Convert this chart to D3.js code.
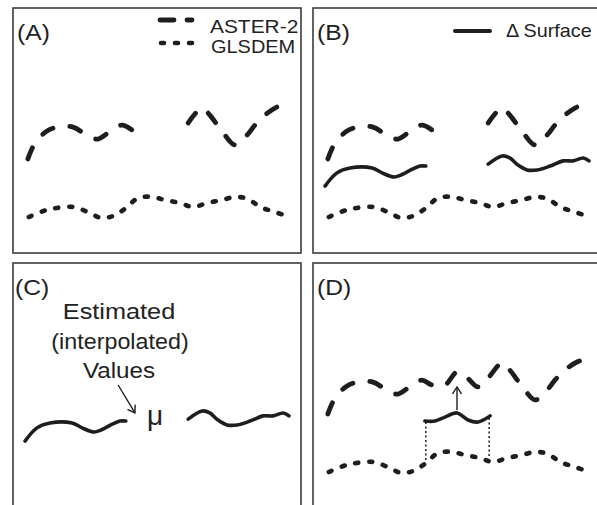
<!DOCTYPE html>
<html>
<head>
<meta charset="utf-8">
<script src="https://cdn.jsdelivr.net/npm/d3@7"></script>
<style>
  body { margin: 0; background: #fff; }
  svg { display: block; }
  text { font-family: "Liberation Sans", Arial, sans-serif; fill: #222; }
</style>
</head>
<body>
<script>
let w = 597;
let h = 505;
let panelW = 288;
let panelH = 245;

// distance (km) / elevation (relative units)
let asterDist1 = [3.1, 4.6, 7.1, 9.4, 12.5, 15.6, 17.7, 20.6, 22.7, 24.8];
let asterElev1 = [38.4, 44.9, 49.8, 51.4, 51.4, 47.8, 46.5, 50.2, 52.2, 50.2];
let asterDist2 = [36.5, 39.4, 41.0, 43.8, 46.3, 48.8, 50.4, 52.5, 55.0, 57.7];
let asterElev2 = [53.1, 59.2, 56.3, 49.0, 44.1, 48.2, 52.2, 56.3, 59.6, 61.2];
let fillDist = [27.5, 30.0, 32.1, 34.4];
let fillElev = [50.2, 55.5, 53.1, 49.4];

let glsDist = [3.3, 7.1, 12.5, 15.6, 18.5, 21.3, 23.8, 26.0, 29.0, 31.7, 34.8, 37.5, 40.4, 43.5, 46.3, 49.0, 51.5, 54.6, 57.7];
let glsElev = [14.7, 17.6, 18.8, 16.7, 14.3, 15.5, 18.8, 22.4, 22.9, 21.6, 20.4, 18.8, 20.4, 21.6, 22.9, 22.0, 18.8, 16.7, 14.7];

let surfDist1 = [2.5, 5.0, 7.7, 12.3, 14.4, 16.9, 18.3, 20.8, 22.3, 23.5];
let surfElev1 = [27.3, 32.7, 34.7, 34.7, 32.7, 31.0, 31.8, 34.3, 35.5, 35.5];
let surfDist2 = [36.5, 39.4, 41.0, 42.7, 44.6, 46.7, 49.4, 52.1, 54.2, 56.3, 57.5];
let surfElev2 = [36.3, 39.6, 38.8, 35.9, 33.9, 33.9, 35.5, 37.6, 37.6, 38.8, 37.6];

let patchDist = [23.3, 25.4, 27.5, 30.0, 32.3, 34.4, 36.9];
let patchElev = [35.5, 35.5, 37.1, 38.8, 35.9, 35.1, 37.6];

let gapEdgeDist = [23.5, 36.7];
let gapEdgeTop = [35.1, 36.7];
let gapEdgeBottom = [19.6, 20.6];

let panels = [
  {label: "(A)", x: 13, y: 8, lx: 4},
  {label: "(B)", x: 313, y: 8, lx: 4},
  {label: "(C)", x: 13, y: 263, lx: 2},
  {label: "(D)", x: 313, y: 263, lx: 4}
];

let x = d3.scaleLinear().domain([0, 60]).range([0, panelW]);
let y = d3.scaleLinear().domain([0, 100]).range([panelH, 0]);

let line = d3.line()
  .x(d => x(d[0]))
  .y(d => y(d[1]))
  .curve(d3.curveCatmullRom.alpha(0.5));

let ink = "#1e1e1e";

let aster1 = d3.zip(asterDist1, asterElev1);
let aster2 = d3.zip(asterDist2, asterElev2);
let asterFull = aster1.concat(d3.zip(fillDist, fillElev), aster2);
let gls = d3.zip(glsDist, glsElev);
let surf1 = d3.zip(surfDist1, surfElev1);
let surf2 = d3.zip(surfDist2, surfElev2);
let patch = d3.zip(patchDist, patchElev);

let svg = d3.select("body")
  .append("svg")
  .attr("width", w)
  .attr("height", h);

svg.append("defs").append("marker")
  .attr("id", "arr")
  .attr("viewBox", "-9 -6 11 12")
  .attr("markerUnits", "userSpaceOnUse")
  .attr("markerWidth", 11)
  .attr("markerHeight", 12)
  .attr("refX", 0)
  .attr("refY", 0)
  .attr("orient", "auto")
  .append("path")
    .attr("d", "M-7,-4.5L0,0L-7,4.5")
    .attr("fill", "none")
    .attr("stroke", ink)
    .attr("stroke-width", 1.4);

function addText(g, tx, ty, str, size, anchor, sx) {
  return g.append("text")
    .attr("transform", "translate(" + tx + "," + ty + ") scale(" + sx + ",1)")
    .attr("text-anchor", anchor)
    .attr("font-size", size)
    .text(str);
}

function asterPath(g, pts) {
  g.append("path")
    .attr("d", line(pts))
    .attr("fill", "none")
    .attr("stroke", ink)
    .attr("stroke-width", 4.8)
    .attr("stroke-linecap", "round")
    .attr("stroke-dasharray", "12,17");
}

function glsPath(g, pts) {
  g.append("path")
    .attr("d", line(pts))
    .attr("fill", "none")
    .attr("stroke", ink)
    .attr("stroke-width", 4.6)
    .attr("stroke-linecap", "round")
    .attr("stroke-dasharray", "3,11");
}

function surfPath(g, pts) {
  g.append("path")
    .attr("d", line(pts))
    .attr("fill", "none")
    .attr("stroke", ink)
    .attr("stroke-width", 3.6)
    .attr("stroke-linecap", "round")
    .attr("stroke-linejoin", "round");
}

let groups = panels.map(p => {
  let g = svg.append("g").attr("transform", "translate(" + p.x + "," + p.y + ")");
  g.append("rect")
    .attr("width", panelW)
    .attr("height", panelH)
    .attr("fill", "none")
    .attr("stroke", "#3c3c3c")
    .attr("stroke-width", 1.6);
  addText(g, p.lx, 32, p.label, 22, "start", 1.12);
  return g;
});

let gA = groups[0], gB = groups[1], gC = groups[2], gD = groups[3];

// (A) two DEMs with a void in ASTER-2
asterPath(gA, aster1);
asterPath(gA, aster2);
glsPath(gA, gls);

gA.append("line")
  .attr("x1", 147).attr("x2", 179).attr("y1", 12).attr("y2", 12)
  .attr("stroke", ink).attr("stroke-width", 4.8).attr("stroke-linecap", "round")
  .attr("stroke-dasharray", "14,13");
gA.append("line")
  .attr("x1", 148).attr("x2", 179).attr("y1", 35).attr("y2", 35)
  .attr("stroke", ink).attr("stroke-width", 4.6).attr("stroke-linecap", "round")
  .attr("stroke-dasharray", "3,11");
addText(gA, 197, 24.5, "ASTER-2", 19, "start", 1.1);
addText(gA, 198, 45, "GLSDEM", 19, "start", 1.05);

// (B) difference surface
asterPath(gB, aster1);
asterPath(gB, aster2);
glsPath(gB, gls);
surfPath(gB, surf1);
surfPath(gB, surf2);

gB.append("line")
  .attr("x1", 142).attr("x2", 177).attr("y1", 23).attr("y2", 23)
  .attr("stroke", ink).attr("stroke-width", 4).attr("stroke-linecap", "round");
addText(gB, 193, 28.5, "\u0394 Surface", 19, "start", 1.04);

// (C) interpolate the difference surface
surfPath(gC, surf1);
surfPath(gC, surf2);
addText(gC, 106, 56, "Estimated", 22, "middle", 1.15);
addText(gC, 107, 86, "(interpolated)", 22, "middle", 1.06);
addText(gC, 106, 115, "Values", 22, "middle", 1.1);
addText(gC, 142, 162, "\u03bc", 28, "middle", 1.0);
gC.append("line")
  .attr("x1", x(21.9)).attr("y1", y(50.2))
  .attr("x2", x(25.4)).attr("y2", y(38.8))
  .attr("stroke", ink).attr("stroke-width", 1.4)
  .attr("marker-end", "url(#arr)");

// (D) fill the void
asterPath(gD, asterFull);
glsPath(gD, gls);
surfPath(gD, patch);
gD.selectAll(".edge")
  .data(d3.range(gapEdgeDist.length))
  .enter()
  .append("line")
    .attr("class", "edge")
    .attr("x1", i => x(gapEdgeDist[i]))
    .attr("x2", i => x(gapEdgeDist[i]))
    .attr("y1", i => y(gapEdgeTop[i]))
    .attr("y2", i => y(gapEdgeBottom[i]))
    .attr("stroke", ink)
    .attr("stroke-width", 1.5)
    .attr("stroke-dasharray", "2,2.5");
gD.append("line")
  .attr("x1", x(30.0)).attr("y1", y(40.0))
  .attr("x2", x(30.0)).attr("y2", y(49.4))
  .attr("stroke", ink).attr("stroke-width", 1.4)
  .attr("marker-end", "url(#arr)");
</script>
</body>
</html>
